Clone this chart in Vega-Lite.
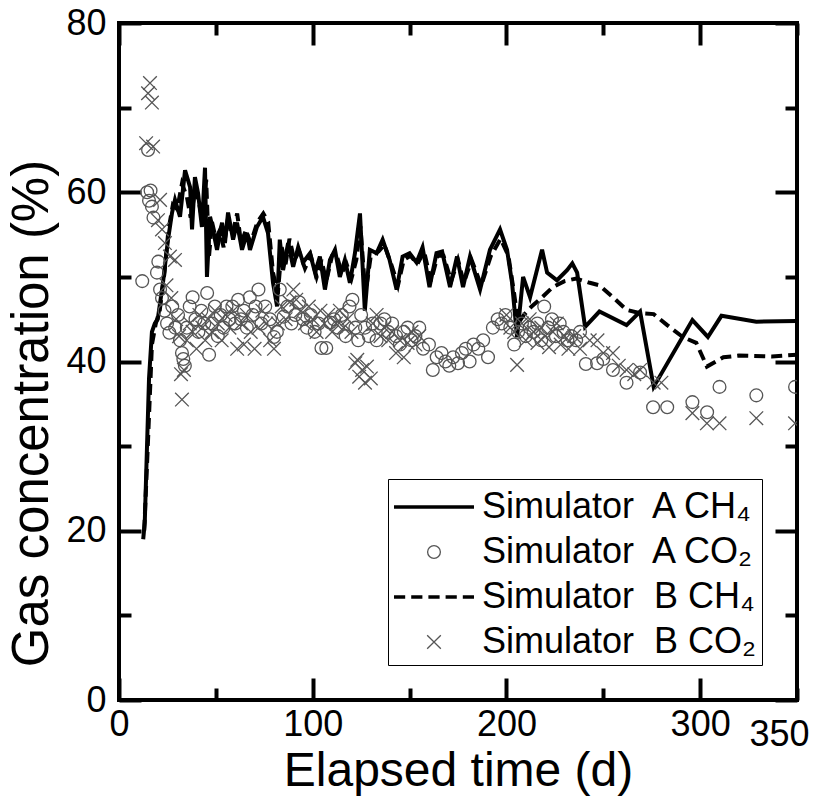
{
  "$schema": "https://vega.github.io/schema/vega-lite/v6.json",
  "autosize": {"type": "none"},
  "padding": {"left": 119, "top": 23, "right": 19, "bottom": 96},
  "width": 678,
  "height": 677,
  "background": "white",
  "config": {
    "view": {"stroke": "black", "strokeWidth": 4},
    "axis": {"grid": false, "domain": false, "tickColor": "black", "tickWidth": 4, "labelColor": "black", "titleColor": "black", "labelFont": "Liberation Sans, Arial, sans-serif", "labelFontSize": 36, "titleFont": "Liberation Sans, Arial, sans-serif", "titleFontWeight": "normal", "labelOverlap": false, "labelFlush": false, "labelBound": false}
  },
  "data": {"values": [
    {"s":"A CH4","d":12.5,"v":19},{"s":"A CH4","d":13.3,"v":21},{"s":"A CH4","d":15.5,"v":38},{"s":"A CH4","d":17,"v":43.5},{"s":"A CH4","d":18.5,"v":44.5},{"s":"A CH4","d":20,"v":45},{"s":"A CH4","d":22.7,"v":49.3},{"s":"A CH4","d":25.3,"v":54.4},{"s":"A CH4","d":27.4,"v":57.6},{"s":"A CH4","d":28.9,"v":59.1},{"s":"A CH4","d":31.5,"v":57.1},{"s":"A CH4","d":34.1,"v":62.6},{"s":"A CH4","d":36.7,"v":60.6},{"s":"A CH4","d":37.7,"v":55.6},{"s":"A CH4","d":39.2,"v":61.8},{"s":"A CH4","d":40.8,"v":59.9},{"s":"A CH4","d":42.8,"v":55.9},{"s":"A CH4","d":44.4,"v":62.9},{"s":"A CH4","d":45.4,"v":50},{"s":"A CH4","d":47,"v":57.1},{"s":"A CH4","d":48.5,"v":55.6},{"s":"A CH4","d":50.6,"v":53.2},{"s":"A CH4","d":53.2,"v":56.4},{"s":"A CH4","d":54.7,"v":54},{"s":"A CH4","d":56.3,"v":57.6},{"s":"A CH4","d":58.9,"v":54.4},{"s":"A CH4","d":60.9,"v":56.4},{"s":"A CH4","d":63.5,"v":53.2},{"s":"A CH4","d":66.1,"v":55.2},{"s":"A CH4","d":67.6,"v":53.2},{"s":"A CH4","d":71.2,"v":55.9},{"s":"A CH4","d":74.3,"v":57.1},{"s":"A CH4","d":76.9,"v":55.2},{"s":"A CH4","d":79.5,"v":49.3},{"s":"A CH4","d":81.6,"v":46.5},{"s":"A CH4","d":83,"v":54.4},{"s":"A CH4","d":84.7,"v":50.8},{"s":"A CH4","d":87.3,"v":54},{"s":"A CH4","d":89.9,"v":51.2},{"s":"A CH4","d":92.5,"v":53.5},{"s":"A CH4","d":95,"v":51.7},{"s":"A CH4","d":98.6,"v":52.8},{"s":"A CH4","d":101.2,"v":50.5},{"s":"A CH4","d":103.7,"v":52.4},{"s":"A CH4","d":106.3,"v":48.5},{"s":"A CH4","d":108.9,"v":52},{"s":"A CH4","d":111.5,"v":53.2},{"s":"A CH4","d":114,"v":50},{"s":"A CH4","d":116.6,"v":52},{"s":"A CH4","d":119.2,"v":49.3},{"s":"A CH4","d":121.8,"v":52.8},{"s":"A CH4","d":124.4,"v":57.5},{"s":"A CH4","d":126.9,"v":46},{"s":"A CH4","d":129.5,"v":53.2},{"s":"A CH4","d":133,"v":52.8},{"s":"A CH4","d":136.1,"v":54.4},{"s":"A CH4","d":139.7,"v":52},{"s":"A CH4","d":143.3,"v":48.5},{"s":"A CH4","d":146.4,"v":52.4},{"s":"A CH4","d":150,"v":52.8},{"s":"A CH4","d":153.6,"v":51.7},{"s":"A CH4","d":156.7,"v":53.5},{"s":"A CH4","d":160.3,"v":48.8},{"s":"A CH4","d":163.9,"v":52.8},{"s":"A CH4","d":166.8,"v":53},{"s":"A CH4","d":170.9,"v":48.8},{"s":"A CH4","d":174.5,"v":52.4},{"s":"A CH4","d":177.6,"v":48.8},{"s":"A CH4","d":181.2,"v":52.4},{"s":"A CH4","d":186.4,"v":48.5},{"s":"A CH4","d":191.5,"v":53.2},{"s":"A CH4","d":196.7,"v":55.6},{"s":"A CH4","d":200.3,"v":53.2},{"s":"A CH4","d":202.9,"v":49.3},{"s":"A CH4","d":205.5,"v":42.9},{"s":"A CH4","d":208.6,"v":50},{"s":"A CH4","d":212.2,"v":47.6},{"s":"A CH4","d":218.4,"v":53.2},{"s":"A CH4","d":221,"v":50.5},{"s":"A CH4","d":226.1,"v":49.6},{"s":"A CH4","d":231.3,"v":50.8},{"s":"A CH4","d":234,"v":51.6},{"s":"A CH4","d":236.5,"v":50.5},{"s":"A CH4","d":240.6,"v":44.1},{"s":"A CH4","d":248,"v":45.9},{"s":"A CH4","d":262,"v":44.3},{"s":"A CH4","d":269,"v":45.9},{"s":"A CH4","d":276,"v":37},{"s":"A CH4","d":296,"v":44.9},{"s":"A CH4","d":304,"v":42.9},{"s":"A CH4","d":311,"v":45.4},{"s":"A CH4","d":329,"v":44.7},{"s":"A CH4","d":350,"v":44.8},

    {"s":"B CH4","d":13,"v":20},{"s":"B CH4","d":14.5,"v":28},{"s":"B CH4","d":17,"v":42},{"s":"B CH4","d":19,"v":44.5},{"s":"B CH4","d":21,"v":46},{"s":"B CH4","d":23.5,"v":50.5},{"s":"B CH4","d":25.5,"v":55.5},{"s":"B CH4","d":27.8,"v":58.5},{"s":"B CH4","d":30,"v":58},{"s":"B CH4","d":32.5,"v":61},{"s":"B CH4","d":35,"v":59.5},{"s":"B CH4","d":37,"v":57},{"s":"B CH4","d":39.5,"v":60.5},{"s":"B CH4","d":41.5,"v":58.5},{"s":"B CH4","d":43.2,"v":56.5},{"s":"B CH4","d":45,"v":61.5},{"s":"B CH4","d":46.5,"v":52.5},{"s":"B CH4","d":48,"v":56.5},{"s":"B CH4","d":50,"v":54.5},{"s":"B CH4","d":52,"v":55.5},{"s":"B CH4","d":54,"v":53.5},{"s":"B CH4","d":56,"v":56.5},{"s":"B CH4","d":58.5,"v":55},{"s":"B CH4","d":61,"v":57.5},{"s":"B CH4","d":63,"v":54},{"s":"B CH4","d":65.5,"v":55.5},{"s":"B CH4","d":68,"v":54},{"s":"B CH4","d":71.5,"v":56.5},{"s":"B CH4","d":74.5,"v":57.5},{"s":"B CH4","d":77,"v":56.5},{"s":"B CH4","d":79.5,"v":50.5},{"s":"B CH4","d":82,"v":48},{"s":"B CH4","d":84,"v":53.5},{"s":"B CH4","d":86,"v":51.5},{"s":"B CH4","d":88,"v":54.5},{"s":"B CH4","d":90.5,"v":52},{"s":"B CH4","d":93,"v":53},{"s":"B CH4","d":96,"v":51},{"s":"B CH4","d":99,"v":52.5},{"s":"B CH4","d":102,"v":50},{"s":"B CH4","d":104.5,"v":52},{"s":"B CH4","d":107,"v":49.5},{"s":"B CH4","d":110,"v":52.5},{"s":"B CH4","d":112,"v":52.8},{"s":"B CH4","d":115,"v":50.5},{"s":"B CH4","d":117.5,"v":51.5},{"s":"B CH4","d":120,"v":49.8},{"s":"B CH4","d":122.5,"v":52},{"s":"B CH4","d":124.6,"v":56},{"s":"B CH4","d":127.2,"v":48},{"s":"B CH4","d":130,"v":52.5},{"s":"B CH4","d":134,"v":53},{"s":"B CH4","d":137,"v":53.8},{"s":"B CH4","d":140.5,"v":51.5},{"s":"B CH4","d":144,"v":49},{"s":"B CH4","d":147,"v":52},{"s":"B CH4","d":150.5,"v":52.5},{"s":"B CH4","d":154,"v":51.5},{"s":"B CH4","d":157.5,"v":53},{"s":"B CH4","d":161,"v":49.5},{"s":"B CH4","d":164.5,"v":52.5},{"s":"B CH4","d":167.5,"v":52.5},{"s":"B CH4","d":171.5,"v":49.5},{"s":"B CH4","d":175,"v":52},{"s":"B CH4","d":178,"v":49.3},{"s":"B CH4","d":182,"v":52},{"s":"B CH4","d":187,"v":49},{"s":"B CH4","d":192,"v":52.5},{"s":"B CH4","d":197,"v":54.5},{"s":"B CH4","d":201,"v":52.5},{"s":"B CH4","d":204,"v":48},{"s":"B CH4","d":206,"v":44.5},{"s":"B CH4","d":209,"v":45.5},{"s":"B CH4","d":213,"v":46.5},{"s":"B CH4","d":218,"v":47.5},{"s":"B CH4","d":224,"v":48.8},{"s":"B CH4","d":230,"v":49.5},{"s":"B CH4","d":236,"v":49.8},{"s":"B CH4","d":243,"v":49.3},{"s":"B CH4","d":248,"v":49},{"s":"B CH4","d":255,"v":47.6},{"s":"B CH4","d":262,"v":46.1},{"s":"B CH4","d":269,"v":45.7},{"s":"B CH4","d":276,"v":45.6},{"s":"B CH4","d":283,"v":44.3},{"s":"B CH4","d":291,"v":42.9},{"s":"B CH4","d":298,"v":42.2},{"s":"B CH4","d":303.5,"v":39.4},{"s":"B CH4","d":312,"v":40.5},{"s":"B CH4","d":320,"v":40.7},{"s":"B CH4","d":337,"v":40.6},{"s":"B CH4","d":350,"v":40.8},

    {"s":"A CO2","d":12,"v":49.5},{"s":"A CO2","d":14.5,"v":60},{"s":"A CO2","d":15,"v":65},{"s":"A CO2","d":15.5,"v":59},{"s":"A CO2","d":16.3,"v":60.2},{"s":"A CO2","d":17,"v":58.3},{"s":"A CO2","d":17.8,"v":57},{"s":"A CO2","d":19.6,"v":50.5},{"s":"A CO2","d":20.3,"v":51.8},{"s":"A CO2","d":21.2,"v":48.5},{"s":"A CO2","d":22.2,"v":47.5},{"s":"A CO2","d":23.5,"v":46},{"s":"A CO2","d":24.8,"v":44.5},{"s":"A CO2","d":26,"v":43.4},{"s":"A CO2","d":27.5,"v":46.5},{"s":"A CO2","d":29,"v":44},{"s":"A CO2","d":30.5,"v":45.5},{"s":"A CO2","d":31.5,"v":42.5},{"s":"A CO2","d":32.5,"v":41},{"s":"A CO2","d":33.2,"v":40.3},{"s":"A CO2","d":34,"v":39.5},{"s":"A CO2","d":35,"v":44},{"s":"A CO2","d":36.5,"v":46.5},{"s":"A CO2","d":38,"v":47.6},{"s":"A CO2","d":39.5,"v":45},{"s":"A CO2","d":41,"v":43.5},{"s":"A CO2","d":42.5,"v":46},{"s":"A CO2","d":44,"v":44.5},{"s":"A CO2","d":45.5,"v":48.1},{"s":"A CO2","d":46.5,"v":40.8},{"s":"A CO2","d":48,"v":44.5},{"s":"A CO2","d":49.5,"v":46.5},{"s":"A CO2","d":51,"v":43},{"s":"A CO2","d":52.5,"v":45.5},{"s":"A CO2","d":54,"v":44},{"s":"A CO2","d":55.5,"v":46.5},{"s":"A CO2","d":57,"v":45},{"s":"A CO2","d":58.5,"v":46.5},{"s":"A CO2","d":60,"v":44.5},{"s":"A CO2","d":61.5,"v":47.3},{"s":"A CO2","d":63,"v":45},{"s":"A CO2","d":64.5,"v":46},{"s":"A CO2","d":66,"v":44},{"s":"A CO2","d":67.5,"v":47.6},{"s":"A CO2","d":69,"v":45.5},{"s":"A CO2","d":70.5,"v":46.5},{"s":"A CO2","d":72,"v":48.5},{"s":"A CO2","d":73.5,"v":44.5},{"s":"A CO2","d":75.5,"v":46.5},{"s":"A CO2","d":78,"v":45},{"s":"A CO2","d":80,"v":42.9},{"s":"A CO2","d":81.5,"v":43.5},{"s":"A CO2","d":83,"v":48.5},{"s":"A CO2","d":85,"v":45.3},{"s":"A CO2","d":87,"v":46.5},{"s":"A CO2","d":89,"v":44.5},{"s":"A CO2","d":91,"v":45.5},{"s":"A CO2","d":93,"v":47},{"s":"A CO2","d":95,"v":45},{"s":"A CO2","d":97,"v":44},{"s":"A CO2","d":99,"v":45.5},{"s":"A CO2","d":101,"v":43.5},{"s":"A CO2","d":103,"v":44.5},{"s":"A CO2","d":104.5,"v":41.6},{"s":"A CO2","d":107,"v":41.6},{"s":"A CO2","d":109,"v":44.6},{"s":"A CO2","d":111,"v":45},{"s":"A CO2","d":113,"v":44},{"s":"A CO2","d":115,"v":45.5},{"s":"A CO2","d":117,"v":43},{"s":"A CO2","d":119,"v":46.5},{"s":"A CO2","d":120.5,"v":47.3},{"s":"A CO2","d":122,"v":44},{"s":"A CO2","d":123.5,"v":42.5},{"s":"A CO2","d":125,"v":45.5},{"s":"A CO2","d":127,"v":44},{"s":"A CO2","d":129,"v":43},{"s":"A CO2","d":131,"v":44.5},{"s":"A CO2","d":133,"v":42.5},{"s":"A CO2","d":135,"v":44.5},{"s":"A CO2","d":137,"v":45},{"s":"A CO2","d":139,"v":43.5},{"s":"A CO2","d":141,"v":44.5},{"s":"A CO2","d":143,"v":43},{"s":"A CO2","d":145,"v":42},{"s":"A CO2","d":147,"v":43.5},{"s":"A CO2","d":149,"v":44},{"s":"A CO2","d":151,"v":42.5},{"s":"A CO2","d":153,"v":43},{"s":"A CO2","d":155,"v":44},{"s":"A CO2","d":157,"v":41.5},{"s":"A CO2","d":160,"v":42},{"s":"A CO2","d":162,"v":39},{"s":"A CO2","d":164,"v":40.5},{"s":"A CO2","d":166.5,"v":41},{"s":"A CO2","d":168.5,"v":40},{"s":"A CO2","d":170.5,"v":39.5},{"s":"A CO2","d":172.5,"v":40.5},{"s":"A CO2","d":175,"v":39.8},{"s":"A CO2","d":177,"v":41},{"s":"A CO2","d":179,"v":41.5},{"s":"A CO2","d":181,"v":40},{"s":"A CO2","d":183,"v":42},{"s":"A CO2","d":185.5,"v":41.5},{"s":"A CO2","d":188,"v":42.5},{"s":"A CO2","d":190.5,"v":40.5},{"s":"A CO2","d":193,"v":44},{"s":"A CO2","d":195.5,"v":45},{"s":"A CO2","d":197.5,"v":44.5},{"s":"A CO2","d":199.5,"v":45.5},{"s":"A CO2","d":202,"v":44},{"s":"A CO2","d":204,"v":42},{"s":"A CO2","d":206,"v":43.5},{"s":"A CO2","d":208,"v":44.5},{"s":"A CO2","d":210,"v":43},{"s":"A CO2","d":212,"v":44},{"s":"A CO2","d":214,"v":43.5},{"s":"A CO2","d":216,"v":44.5},{"s":"A CO2","d":218,"v":42.5},{"s":"A CO2","d":219.5,"v":46.5},{"s":"A CO2","d":221.5,"v":44},{"s":"A CO2","d":223.5,"v":45},{"s":"A CO2","d":225.5,"v":43},{"s":"A CO2","d":227.5,"v":44.5},{"s":"A CO2","d":229.5,"v":43.5},{"s":"A CO2","d":231.5,"v":42.5},{"s":"A CO2","d":233.5,"v":43},{"s":"A CO2","d":236,"v":42.5},{"s":"A CO2","d":238,"v":43.5},{"s":"A CO2","d":241,"v":39.7},{"s":"A CO2","d":246.8,"v":39.8},{"s":"A CO2","d":250,"v":40.3},{"s":"A CO2","d":255,"v":39},{"s":"A CO2","d":262,"v":37.5},{"s":"A CO2","d":269,"v":38.7},{"s":"A CO2","d":275.7,"v":34.6},{"s":"A CO2","d":283,"v":34.6},{"s":"A CO2","d":296,"v":35.2},{"s":"A CO2","d":303.6,"v":34},{"s":"A CO2","d":310,"v":37},{"s":"A CO2","d":329,"v":36},{"s":"A CO2","d":349,"v":37},

    {"s":"B CO2","d":14,"v":65.8},{"s":"B CO2","d":15,"v":71.7},{"s":"B CO2","d":16,"v":72.9},{"s":"B CO2","d":17,"v":70.6},{"s":"B CO2","d":17.6,"v":65.4},{"s":"B CO2","d":20.1,"v":56.7},{"s":"B CO2","d":21.2,"v":59.1},{"s":"B CO2","d":22.2,"v":55.6},{"s":"B CO2","d":23.7,"v":54},{"s":"B CO2","d":26.3,"v":52.4},{"s":"B CO2","d":28.9,"v":52},{"s":"B CO2","d":24.5,"v":49},{"s":"B CO2","d":27,"v":47.5},{"s":"B CO2","d":29.5,"v":45},{"s":"B CO2","d":31,"v":43},{"s":"B CO2","d":32,"v":38.5},{"s":"B CO2","d":32.5,"v":35.5},{"s":"B CO2","d":33.5,"v":39},{"s":"B CO2","d":35,"v":42.5},{"s":"B CO2","d":36.5,"v":44.5},{"s":"B CO2","d":38,"v":43.5},{"s":"B CO2","d":40,"v":41.5},{"s":"B CO2","d":41.5,"v":45.5},{"s":"B CO2","d":43,"v":44},{"s":"B CO2","d":44.5,"v":42.5},{"s":"B CO2","d":46,"v":45},{"s":"B CO2","d":48,"v":43.5},{"s":"B CO2","d":49.5,"v":46},{"s":"B CO2","d":51,"v":44.5},{"s":"B CO2","d":53,"v":42.5},{"s":"B CO2","d":55,"v":45.5},{"s":"B CO2","d":57,"v":44},{"s":"B CO2","d":59,"v":46},{"s":"B CO2","d":61,"v":41.5},{"s":"B CO2","d":63,"v":44.5},{"s":"B CO2","d":64.5,"v":42},{"s":"B CO2","d":66,"v":45.5},{"s":"B CO2","d":68,"v":43.5},{"s":"B CO2","d":70,"v":41.5},{"s":"B CO2","d":72,"v":44},{"s":"B CO2","d":74,"v":46},{"s":"B CO2","d":76,"v":44.5},{"s":"B CO2","d":78,"v":42.5},{"s":"B CO2","d":80,"v":41.5},{"s":"B CO2","d":82,"v":44.5},{"s":"B CO2","d":84,"v":46.5},{"s":"B CO2","d":86,"v":45},{"s":"B CO2","d":88,"v":47},{"s":"B CO2","d":90,"v":48.5},{"s":"B CO2","d":91.5,"v":47.3},{"s":"B CO2","d":94,"v":46},{"s":"B CO2","d":96,"v":44.5},{"s":"B CO2","d":98,"v":46.5},{"s":"B CO2","d":100,"v":45},{"s":"B CO2","d":102,"v":43.5},{"s":"B CO2","d":104,"v":46},{"s":"B CO2","d":106,"v":44.5},{"s":"B CO2","d":108,"v":45.5},{"s":"B CO2","d":110,"v":43.5},{"s":"B CO2","d":112,"v":44.5},{"s":"B CO2","d":114,"v":46},{"s":"B CO2","d":116,"v":44},{"s":"B CO2","d":118,"v":45},{"s":"B CO2","d":120,"v":43.5},{"s":"B CO2","d":122,"v":39.8},{"s":"B CO2","d":123,"v":40.2},{"s":"B CO2","d":124,"v":38.2},{"s":"B CO2","d":125.5,"v":39},{"s":"B CO2","d":127,"v":37.5},{"s":"B CO2","d":128,"v":39.4},{"s":"B CO2","d":130,"v":38},{"s":"B CO2","d":131,"v":44.5},{"s":"B CO2","d":133,"v":45.5},{"s":"B CO2","d":135,"v":43},{"s":"B CO2","d":137,"v":44},{"s":"B CO2","d":139,"v":42.5},{"s":"B CO2","d":141,"v":43.5},{"s":"B CO2","d":143,"v":41},{"s":"B CO2","d":145,"v":42.5},{"s":"B CO2","d":147,"v":40.5},{"s":"B CO2","d":149,"v":42.2},{"s":"B CO2","d":151,"v":43.5},{"s":"B CO2","d":153,"v":42},{"s":"B CO2","d":155,"v":43},{"s":"B CO2","d":200,"v":45.5},{"s":"B CO2","d":202,"v":44},{"s":"B CO2","d":204,"v":43.5},{"s":"B CO2","d":205.5,"v":39.6},{"s":"B CO2","d":208,"v":44.5},{"s":"B CO2","d":210,"v":42.5},{"s":"B CO2","d":212,"v":45},{"s":"B CO2","d":214,"v":43.5},{"s":"B CO2","d":216,"v":42.2},{"s":"B CO2","d":218,"v":44},{"s":"B CO2","d":220,"v":43},{"s":"B CO2","d":222,"v":41.7},{"s":"B CO2","d":224,"v":43.5},{"s":"B CO2","d":226,"v":44.5},{"s":"B CO2","d":228,"v":42},{"s":"B CO2","d":230,"v":43},{"s":"B CO2","d":232,"v":41.5},{"s":"B CO2","d":235,"v":43},{"s":"B CO2","d":238,"v":41.5},{"s":"B CO2","d":243,"v":42.5},{"s":"B CO2","d":247,"v":42.5},{"s":"B CO2","d":250,"v":41},{"s":"B CO2","d":255,"v":41},{"s":"B CO2","d":258,"v":39.5},{"s":"B CO2","d":262,"v":39},{"s":"B CO2","d":266,"v":38.5},{"s":"B CO2","d":269,"v":39},{"s":"B CO2","d":276,"v":37.5},{"s":"B CO2","d":280,"v":37.5},{"s":"B CO2","d":296,"v":33.9},{"s":"B CO2","d":303.5,"v":32.7},{"s":"B CO2","d":310,"v":32.7},{"s":"B CO2","d":329,"v":33.3},{"s":"B CO2","d":349,"v":32.7}
  ]},
  "resolve": {"axis": {"x": "independent", "y": "independent"}},
  "layer": [
    {
      "transform": [{"filter": "datum.s == 'A CH4'"}],
      "mark": {"type": "line", "color": "black", "strokeWidth": 4, "clip": true},
      "encoding": {
        "x": {"field": "d", "type": "quantitative", "scale": {"domain": [0, 350], "nice": false, "zero": false},
          "axis": {"orient": "bottom", "values": [0, 50, 100, 150, 200, 250, 300, 350],
            "labelExpr": "(datum.value % 100 == 0 || datum.value == 350) ? datum.label : ''",
            "tickSize": {"condition": {"test": "datum.value % 100 == 0", "value": -22}, "value": -12},
            "labelPadding": 29,
            "labelOffset": {"condition": {"test": "datum.value == 350", "value": -18}, "value": 0},
            "title": "Elapsed time (d)", "titleFontSize": 48, "titleBaseline": "alphabetic", "titleY": 85}},
        "y": {"field": "v", "type": "quantitative", "scale": {"domain": [0, 80], "nice": false},
          "axis": {"orient": "left", "values": [0, 10, 20, 30, 40, 50, 60, 70, 80],
            "labelExpr": "datum.value % 20 == 0 ? datum.label : ''",
            "tickSize": {"condition": {"test": "datum.value % 20 == 0", "value": -22}, "value": -12},
            "labelPadding": 35,
            "title": "Gas concentration (%)", "titleFontSize": 51, "titleX": -61, "titleY": 390}}
      }
    },
    {
      "transform": [{"filter": "datum.s == 'B CH4'"}],
      "mark": {"type": "line", "color": "black", "strokeWidth": 4, "strokeDash": [11, 6], "clip": true},
      "encoding": {
        "x": {"field": "d", "type": "quantitative",
          "axis": {"orient": "top", "values": [0, 50, 100, 150, 200, 250, 300, 350], "labels": false, "title": null,
            "tickSize": {"condition": {"test": "datum.value % 100 == 0", "value": -22}, "value": -12}}},
        "y": {"field": "v", "type": "quantitative",
          "axis": {"orient": "right", "values": [0, 10, 20, 30, 40, 50, 60, 70, 80], "labels": false, "title": null,
            "tickSize": {"condition": {"test": "datum.value % 20 == 0", "value": -22}, "value": -12}}}
      }
    },
    {
      "transform": [{"filter": "datum.s == 'A CO2' || datum.s == 'B CO2'"}],
      "mark": {"type": "point", "filled": false, "opacity": 1, "strokeWidth": 1.3, "size": 1936, "clip": true},
      "encoding": {
        "x": {"field": "d", "type": "quantitative", "axis": null},
        "y": {"field": "v", "type": "quantitative", "axis": null},
        "shape": {"field": "s", "type": "nominal",
          "scale": {"domain": ["A CH4", "A CO2", "B CH4", "B CO2"],
            "range": ["M-1.818,-0.045H1.818M-1.818,0H1.818M-1.818,0.045H1.818", "M0.29,0A0.29,0.29,0,1,1,-0.29,0A0.29,0.29,0,1,1,0.29,0Z", "M-1.818,-0.045H-1.309M-1.818,0H-1.309M-1.818,0.045H-1.309M-1.036,-0.045H-0.527M-1.036,0H-0.527M-1.036,0.045H-0.527M-0.255,-0.045H0.255M-0.255,0H0.255M-0.255,0.045H0.255M0.527,-0.045H1.036M0.527,0H1.036M0.527,0.045H1.036M1.309,-0.045H1.818M1.309,0H1.818M1.309,0.045H1.818", "M-0.31,-0.31L0.31,0.31M-0.31,0.31L0.31,-0.31"]},
          "legend": {"title": null, "orient": "bottom-right", "offset": 35,
            "labelExpr": "'Simulator\u00a0 ' + replace(replace(datum.label, 'CH4', 'CH\u2084'), 'CO2', 'CO\u2082')",
            "labelFont": "Liberation Sans, Arial, sans-serif", "labelFontSize": 36, "labelColor": "black", "labelLimit": 500,
            "symbolSize": 1936, "symbolStrokeWidth": 1.3, "symbolOffset": 18, "labelOffset": 25, "rowPadding": 4, "padding": 5,
            "strokeColor": "black", "fillColor": "white"}},
        "color": {"field": "s", "type": "nominal",
          "scale": {"domain": ["A CH4", "A CO2", "B CH4", "B CO2"], "range": ["black", "#555555", "black", "#555555"]}}
      }
    }
  ]
}
